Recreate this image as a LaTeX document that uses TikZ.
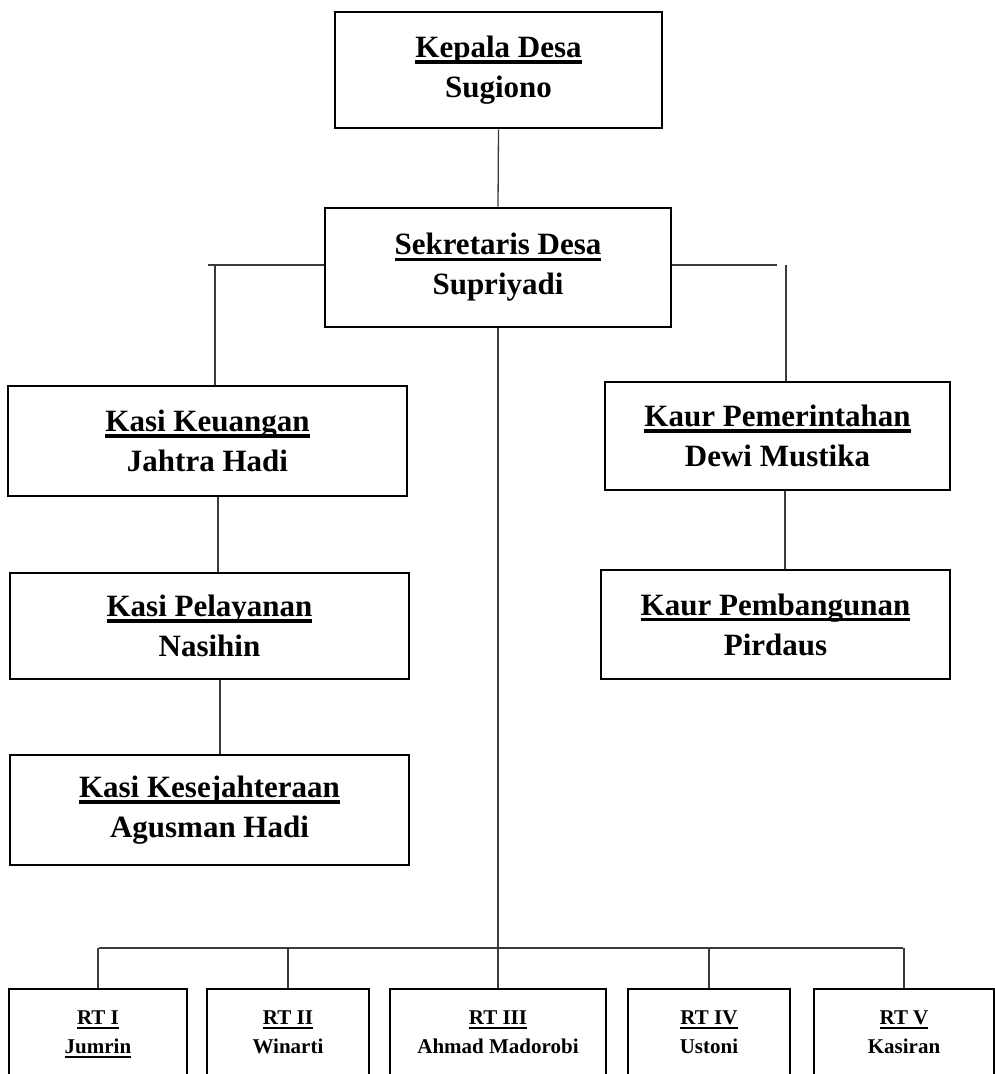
\documentclass[tikz,border=0pt]{standalone}
\usepackage{fontspec}
\setmainfont{Liberation Serif}
\usetikzlibrary{calc}
\definecolor{linkgray}{HTML}{3A3A3A}
\newsavebox{\ulbox}
\newcommand{\undl}[1]{\sbox{\ulbox}{#1}\rlap{\smash{\rule[-0.2em]{\wd\ulbox}{0.11em}}}\usebox{\ulbox}}

\begin{document}
\begin{tikzpicture}[
  x=1pt, y=-1pt,
  office/.style={draw=black, line width=2.8pt, fill=white, inner sep=0pt,
    align=center, font=\fontsize{31}{40}\selectfont\bfseries},
  rtbox/.style={office, font=\fontsize{21}{29}\selectfont\bfseries},
  link/.style={draw=linkgray, line width=1.3pt}
]

% Frame
\clip (0,0) rectangle (995,1074);

% ── Kepala & Sekretaris ──
\node[office, minimum width=327pt, minimum height=116pt] (kades) at (498.5,70)
  {\undl{Kepala Desa}\\Sugiono};
\node[office, minimum width=346pt, minimum height=119pt] (sekdes) at (498,267.5)
  {\undl{Sekretaris Desa}\\Supriyadi};

% ── Kasi (left column) ──
\node[office, minimum width=399pt, minimum height=110pt] (keuangan) at (207.5,441)
  {\undl{Kasi Keuangan}\\Jahtra Hadi};
\node[office, minimum width=399pt, minimum height=106pt] (pelayanan) at (209.5,626)
  {\undl{Kasi Pelayanan}\\Nasihin};
\node[office, minimum width=399pt, minimum height=110pt] (sejahtera) at (209.5,810)
  {\undl{Kasi Kesejahteraan}\\Agusman Hadi};

% ── Kaur (right column) ──
\node[office, minimum width=345pt, minimum height=108pt] (pemerintahan) at (777.5,436)
  {\undl{Kaur Pemerintahan}\\Dewi Mustika};
\node[office, minimum width=349pt, minimum height=109pt] (pembangunan) at (775.5,624.5)
  {\undl{Kaur Pembangunan}\\Pirdaus};

% ── RT row ──
\node[rtbox, minimum width=178pt, minimum height=87pt] (rt1) at (98,1032.5)
  {\undl{RT I}\\\undl{Jumrin}};
\node[rtbox, minimum width=162pt, minimum height=87pt] (rt2) at (288,1032.5)
  {\undl{RT II}\\Winarti};
\node[rtbox, minimum width=216pt, minimum height=87pt] (rt3) at (498,1032.5)
  {\undl{RT III}\\Ahmad Madorobi};
\node[rtbox, minimum width=162pt, minimum height=87pt] (rt4) at (709,1032.5)
  {\undl{RT IV}\\Ustoni};
\node[rtbox, minimum width=180pt, minimum height=87pt] (rt5) at (904,1032.5)
  {\undl{RT V}\\Kasiran};

% ── Connectors ──
\coordinate (lend) at (208,265);
\coordinate (ldrop) at (215,265);
\coordinate (rend) at (777,265);
\coordinate (rdrop) at (786,265);
\coordinate (rtbarL) at (99,948);
\coordinate (rtbarR) at (903,948);

\draw[link] (kades.south) -- (sekdes.north);
\draw[link] (sekdes.west |- lend) -- (lend);
\draw[link] (ldrop) -- (ldrop |- keuangan.north);
\draw[link] (sekdes.east |- rend) -- (rend);
\draw[link] (rdrop) -- (rdrop |- pemerintahan.north);

\draw[link] ([xshift=10.5pt]keuangan.south) -- ([xshift=8.5pt]pelayanan.north);
\draw[link] ([xshift=10.5pt]pelayanan.south) -- ([xshift=10.5pt]sejahtera.north);
\draw[link] ([xshift=7.5pt]pemerintahan.south) -- ([xshift=9.5pt]pembangunan.north);

\draw[link] (sekdes.south) -- (rt3.north);
\draw[link] (rtbarL) -- (rtbarR);
\foreach \n in {rt1, rt2, rt4, rt5}
  \draw[link] (\n.north |- rtbarL) -- (\n.north);

\end{tikzpicture}
\end{document}
